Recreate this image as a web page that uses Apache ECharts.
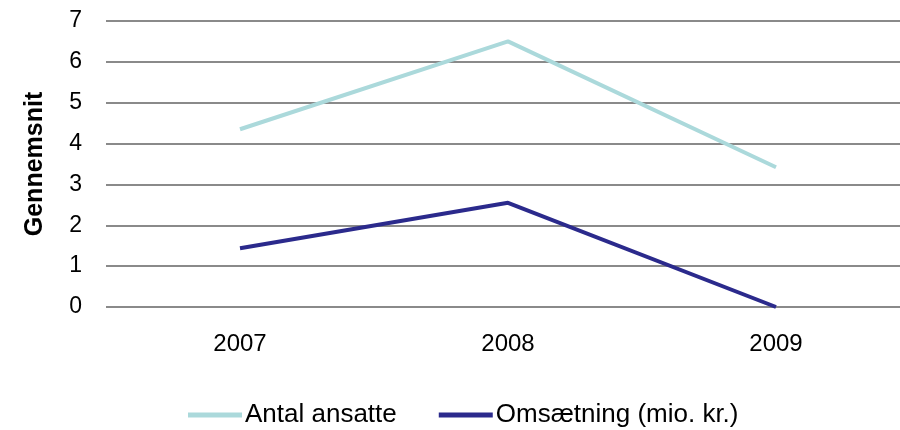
<!DOCTYPE html>
<html><head><meta charset="utf-8">
<script src="https://cdn.jsdelivr.net/npm/echarts@6/dist/echarts.min.js"></script>
<style>html,body{margin:0;padding:0;background:#fff;overflow:hidden;width:900px;height:430px}#c{width:910px;height:430px}</style>
</head><body><div id="c"></div>
<script>
const categories = ['2007', '2008', '2009'];
const antalAnsatte = [4.35, 6.5, 3.42];
const omsaetning = [1.44, 2.55, 0];
const yTicks = [0, 1, 2, 3, 4, 5, 6, 7];
const seriesNames = ['Antal ansatte', 'Omsætning (mio. kr.)'];
const yTitle = 'Gennemsnit';

const FONT = '"Liberation Sans", Arial, sans-serif';
const chart = echarts.init(document.getElementById('c'), null, {renderer: 'canvas'});
chart.setOption({
  animation: false,
  backgroundColor: '#fff',
  grid: {left: 106, right: 0, top: 21, height: 286, containLabel: false},
  legend: {
    top: 397, left: 183,
    itemWidth: 54, itemHeight: 5, itemGap: 42,
    icon: 'rect',
    textStyle: {fontFamily: FONT, fontSize: 26, color: '#000', padding: [0, 0, 0, -2]},
    data: seriesNames
  },
  xAxis: {
    type: 'category', data: categories, boundaryGap: true,
    axisLine: {show: false}, axisTick: {show: false},
    axisLabel: {fontFamily: FONT, fontSize: 24, color: '#000', margin: 25}
  },
  yAxis: {
    type: 'value', min: yTicks[0], max: yTicks[yTicks.length - 1], interval: 1,
    name: yTitle, nameLocation: 'middle', nameGap: 58, nameRotate: 90,
    nameTextStyle: {fontFamily: FONT, fontWeight: 'bold', fontSize: 25, color: '#000'},
    axisLine: {show: false}, axisTick: {show: false},
    axisLabel: {fontFamily: FONT, fontSize: 23, color: '#000', margin: 24},
    splitLine: {lineStyle: {color: '#8a8a8a', width: 2}}
  },
  series: [
    {name: seriesNames[0], type: 'line', data: antalAnsatte, symbol: 'none',
     lineStyle: {color: '#ABD9DB', width: 4}, itemStyle: {color: '#ABD9DB'}},
    {name: seriesNames[1], type: 'line', data: omsaetning, symbol: 'none',
     lineStyle: {color: '#2B2A8C', width: 4}, itemStyle: {color: '#2B2A8C'}}
  ]
});
</script></body></html>
